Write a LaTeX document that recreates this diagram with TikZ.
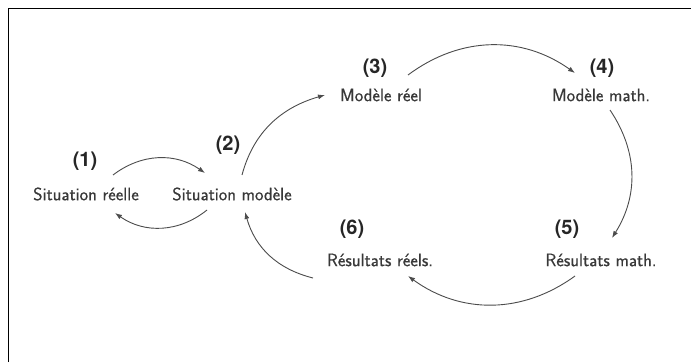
\documentclass[tikz,border=0pt]{standalone}
\usepackage{fontspec}
\usetikzlibrary{arrows.meta,calc}
\newfontfamily\numfont{TeX Gyre Heros}
\newfontfamily\txtfont{Latin Modern Sans}[FakeBold=0.5]
\begin{document}
\begin{tikzpicture}[x=1pt,y=1pt,
  txt/.style={inner sep=0pt,text=black!78,font=\txtfont\fontsize{18}{20}\selectfont},
  num/.style={inner sep=0pt,text=black!85,font=\numfont\bfseries\fontsize{20}{22}\selectfont},
  arr/.style={draw=black!70,line width=0.9pt,-{Latex[length=7pt,width=5pt]}}]
\useasboundingbox (0,0) rectangle (691,362);
\fill[white] (0,0) rectangle (691,362);
\coordinate (fl) at (8.5,0);
\coordinate (ft) at (8.5,353);
\coordinate (fr) at (691,353);
\draw[line width=1pt] (fl) -- (ft) -- (fr);
% texts
\node[txt] (sr) at (86,168) {Situation réelle};
\node[txt] (sm) at (232,168) {Situation modèle};
\node[txt] (mr) at (381,267) {Modèle réel};
\node[txt] (mm) at (601,267) {Modèle math.};
\node[txt] (rm) at (601,102) {Résultats math.};
\node[txt] (rr) at (380,102) {Résultats réels.};
\node[num] (n1) at (85,201) {(1)};
\node[num] (n2) at (228,217) {(2)};
\node[num] (n3) at (375,294) {(3)};
\node[num] (n4) at (602,294) {(4)};
\node[num] (n5) at (567,133) {(5)};
\node[num] (n6) at (352,133) {(6)};
% connectors
\draw[arr] ($(sr)+(27,19)$) to[bend left=36] ($(sm)+(-27,21)$);
\draw[arr] ($(sm)+(-25,-16)$) to[bend left=37] ($(sr)+(29,-19)$);
\draw[arr] ($(sm)+(10,19)$) to[out=75,in=196] ($(mr)+(-56,0)$);
\draw[arr] ($(mr)+(27,20)$) to[bend left=36] ($(mm)+(-26,22)$);
\draw[arr] ($(mm)+(9,-15)$) to[bend left=33] ($(rm)+(11,22)$);
\draw[arr] ($(rm)+(-26,-16)$) to[bend left=36] ($(rr)+(28,-16)$);
\draw[arr] ($(rr)+(-67,-18)$) to[bend left=30] ($(sm)+(13,-18)$);
\end{tikzpicture}
\end{document}
